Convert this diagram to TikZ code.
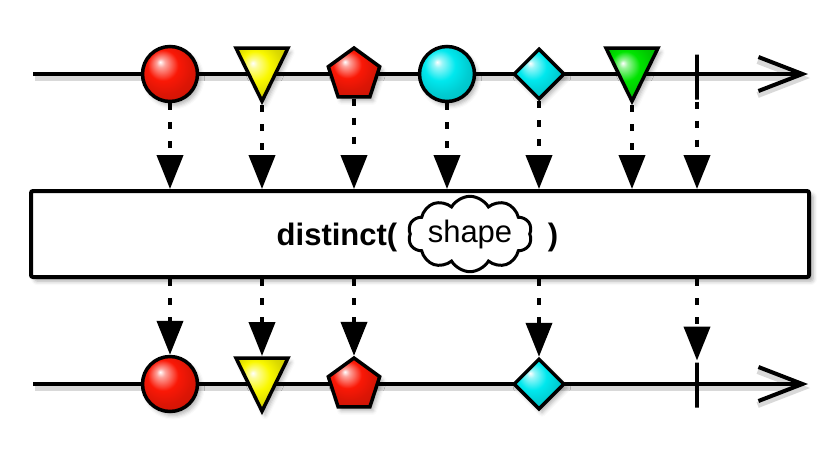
\documentclass[tikz,border=0pt]{standalone}
\usepackage{fontspec}
\setmainfont{Liberation Sans}
\definecolor{marblered}{RGB}{250, 24, 6}
\definecolor{marbleyellow}{RGB}{250, 248, 0}
\definecolor{marblecyan}{RGB}{0, 232, 238}
\definecolor{marblegreen}{RGB}{0, 228, 0}
\usetikzlibrary{shapes, arrows.meta, shadows.blur, positioning}
\colorlet{marblefill}{marblered}
\pgfdeclareradialshading[marblefill]{marble}{\pgfpoint{-9bp}{11bp}}{%
	color(0bp)=(white); color(4bp)=(marblefill!40!white); color(14bp)=(marblefill);
	color(24bp)=(marblefill!88!black); color(50bp)=(marblefill!70!black)}
\tikzset{
	marble/.style={draw=black, line width=3.5pt, inner sep=0pt, shade, shading=marble,
		blur shadow={shadow xshift=3pt, shadow yshift=-4pt, shadow blur radius=4pt, shadow opacity=30}},
	marble color/.code={\colorlet{marblefill}{#1}}, % picked up by the shading
	circ/.style={marble, circle, minimum size=55pt},
	tri/.style={marble, regular polygon, regular polygon sides=3, shape border rotate=180,
		minimum size=60pt, yscale=1.18, anchor=north},
	pent/.style={marble, regular polygon, regular polygon sides=5, minimum size=54pt},
	dia/.style={marble, diamond, minimum size=51pt},
	tickmark/.style={draw=black, line width=4pt, inner sep=0pt, minimum width=0pt, minimum height=45pt},
	timeline/.style={draw=black, line width=4pt, -{Straight Barb[length=44pt, width=34pt]},
		preaction={draw=black!15, line width=6pt, transform canvas={shift={(2pt,-4pt)}}}},
	dotarrow/.style={draw=black, line width=4pt, dash pattern=on 7pt off 12pt,
		-{Triangle[width=26pt, length=34pt]}},
}

\begin{document}
\begin{tikzpicture}[x=1pt, y=-1pt,
		opbox/.style={draw=black, fill=white, line width=4pt, rounded corners=2pt,
			minimum width=778pt, minimum height=86pt, inner sep=0pt,
			blur shadow={shadow xshift=4pt, shadow yshift=-4pt, shadow blur radius=4pt, shadow opacity=35}},
		optext/.style={font=\fontsize{31}{36}\selectfont\bfseries, anchor=base, inner sep=0pt},
		cloudbox/.style={cloud, cloud puffs=10, cloud puff arc=120, aspect=2.1, draw=black,
			line width=3pt, fill=white, font=\fontsize{31}{36}\selectfont, inner sep=0pt,
			minimum width=116pt, minimum height=55pt}]
	\useasboundingbox (0,0) rectangle (840,448);
	% source
	\coordinate (in start) at (33,74);
	\coordinate (in end) at (808,74);
	\draw[timeline] (in start) -- (in end);
	\node[circ, marble color=marblered] (red1) at (170,74) {};
	\node[tri, marble color=marbleyellow] (yellow1) at (262,46) {};
	\node[pent, marble color=marblered] (pent1) at (354,75) {};
	\node[circ, marble color=marblecyan] (cyan1) at (447,74) {};
	\node[dia, marble color=marblecyan] (dia1) at (539,74) {};
	\node[tri, marble color=marblegreen] (green1) at (632,46) {};
	\node[tickmark] (done1) at (697,77) {};
	
	% operator
	\node[opbox] (box) at (420,234) {};
	\node[optext] (op) at (337,245) {distinct(};
	\node[cloudbox] (key) at (470,234) {shape};
	\node[optext] (close) at (553,245) {)};
	
	% result
	\coordinate (out start) at (33,384);
	\coordinate (out end) at (808,384);
	\draw[timeline] (out start) -- (out end);
	\node[circ, marble color=marblered] (red2) at (170,384) {};
	\node[tri, marble color=marbleyellow] (yellow2) at (262,356) {};
	\node[pent, marble color=marblered] (pent2) at (354,385) {};
	\node[dia, marble color=marblecyan] (dia2) at (539,384) {};
	\node[tickmark] (done2) at (697,385) {};
	
	\foreach \m in {red1,yellow1,pent1,cyan1,dia1,green1,done1}
		\draw[dotarrow] (\m.south) -- (\m.south |- box.north);
	\foreach \m in {red2,yellow2,pent2,dia2,done2}
		\draw[dotarrow] (box.south -| \m.north) -- (\m.north);
\end{tikzpicture}
\end{document}
